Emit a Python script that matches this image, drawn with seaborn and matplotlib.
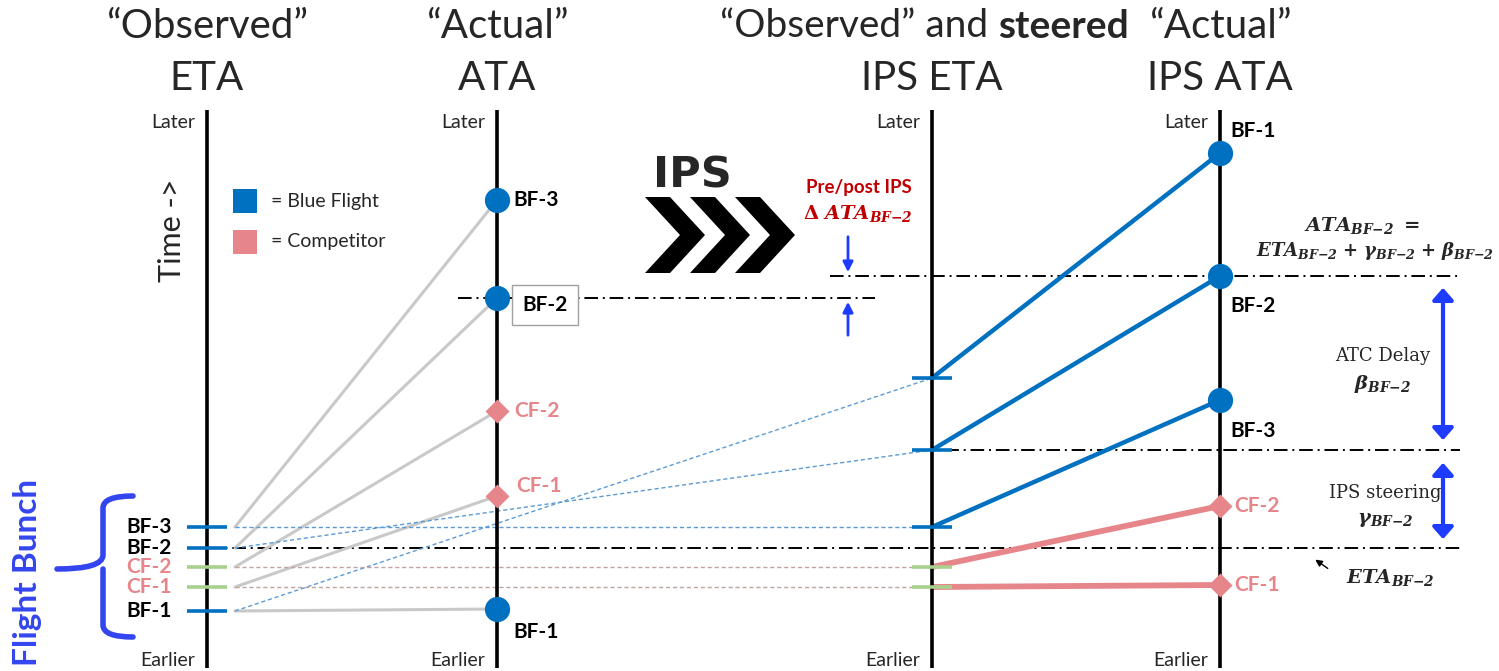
import numpy as np
import pandas as pd
import seaborn as sns
import matplotlib.pyplot as plt
from matplotlib.path import Path
from matplotlib.patches import PathPatch, Polygon

sns.set_style("white")
plt.rcParams['font.family'] = ['Lato', 'DejaVu Sans']
plt.rcParams['mathtext.fontset'] = 'dejavuserif'

# screen-like units: x across the page, y = time position (smaller = later)
axis_x = [207, 497, 932, 1220]
title_top = ["\u201cObserved\u201d", "\u201cActual\u201d", None, "\u201cActual\u201d"]
title_bot = ["ETA", "ATA", "IPS ETA", "IPS ATA"]

flights = ["BF-1", "BF-2", "BF-3", "CF-1", "CF-2"]
group = ["BF", "BF", "BF", "CF", "CF"]
eta_obs = [611, 548, 527, 587, 567]
ata_obs = [609, 298, 200, 496, 411]
ips_eta = [378, 450, 527, 587, 567]
ips_ata = [153, 276, 400, 585, 506]

# label offsets (dx, dy) next to the markers
ata_lab = [(16, 23), (48, 7), (16, 0), (19, -10), (17, 0)]
ips_lab = [(10, -22), (10, 30), (10, 31), (14, 0), (14, 0)]

BLUE = "#0070C0"
PINK = "#E6868A"
GREEN = "#A9D18E"
GREY = "#C9C9C9"
DARKRED = "#C00000"
ARROW = "#1E3CFF"
BUNCH = "#3345EE"

df = pd.DataFrame({"flight": flights, "group": group, "eta": eta_obs,
                   "ata": ata_obs, "ips_eta": ips_eta, "ips_ata": ips_ata})

fig = plt.figure(figsize=(14.99, 6.71), dpi=100)
ax = fig.add_axes([0, 0, 1, 1])


def segments(frame, y0, y1, x0, x1):
    a = pd.DataFrame({"flight": frame["flight"], "group": frame["group"], "x": x0, "y": frame[y0]})
    b = pd.DataFrame({"flight": frame["flight"], "group": frame["group"], "x": x1, "y": frame[y1]})
    return pd.concat([a, b]).reset_index(drop=True)


# time axes
for x in axis_x:
    ax.plot([x, x], [110, 668], color="black", lw=2.6, solid_capstyle="butt", zorder=3)
    ax.text(x - 12, 122, "Later", ha="right", va="center", fontsize=14)
    ax.text(x - 12, 660, "Earlier", ha="right", va="center", fontsize=14)

# ETA -> ATA grey links
grey = segments(df, "eta", "ata", axis_x[0] + 28, axis_x[1])
sns.lineplot(data=grey, x="x", y="y", units="flight", estimator=None, sort=False,
             color=GREY, lw=2.2, ax=ax, zorder=1)

# ETA -> IPS ETA dotted links
bf = df[df.group == "BF"]
cf = df[df.group == "CF"]
sns.lineplot(data=segments(bf, "eta", "ips_eta", axis_x[0] + 28, axis_x[2]), x="x", y="y",
             units="flight", estimator=None, sort=False, color="#5B9BD5", lw=1.0,
             linestyle=(0, (3, 2)), ax=ax, zorder=1)
sns.lineplot(data=segments(cf, "eta", "ips_eta", axis_x[0] + 28, axis_x[2]), x="x", y="y",
             units="flight", estimator=None, sort=False, color="#C4A2A2", lw=1.0,
             linestyle=(0, (3, 2)), ax=ax, zorder=1)

# IPS ETA -> IPS ATA steering
sns.lineplot(data=segments(bf, "ips_eta", "ips_ata", axis_x[2], axis_x[3]), x="x", y="y",
             units="flight", estimator=None, sort=False, color=BLUE, lw=3.2, ax=ax, zorder=2)
sns.lineplot(data=segments(cf, "ips_eta", "ips_ata", axis_x[2], axis_x[3]), x="x", y="y",
             units="flight", estimator=None, sort=False, color=PINK, lw=4.2, ax=ax, zorder=2)

# ETA ticks
for stage, xi in (("eta", axis_x[0]), ("ips_eta", axis_x[2])):
    for _, r in df.iterrows():
        ax.plot([xi - 20, xi + 20], [r[stage], r[stage]], lw=2.6,
                color=BLUE if r.group == "BF" else GREEN, solid_capstyle="butt", zorder=4)

# markers at ATA and IPS ATA
for stage, xi in (("ata", axis_x[1]), ("ips_ata", axis_x[3])):
    pts = pd.DataFrame({"x": xi, "y": df[stage], "group": df.group})
    sns.scatterplot(data=pts[pts.group == "BF"], x="x", y="y", color=BLUE, marker="o",
                    s=330, linewidth=0, ax=ax, zorder=5)
    sns.scatterplot(data=pts[pts.group == "CF"], x="x", y="y", color=PINK, marker="D",
                    s=150, linewidth=0, ax=ax, zorder=5)

# flight labels
for _, r in df.iterrows():
    col = "black" if r.group == "BF" else PINK
    ax.text(axis_x[0] - 35, r.eta, r.flight, ha="right", va="center",
            fontsize=15, fontweight="bold", color=col)
for i, r in df.iterrows():
    col = "black" if r.group == "BF" else PINK
    dx, dy = ata_lab[i]
    box = None
    ha = "left"
    if r.flight == "BF-2":
        box = dict(boxstyle="square,pad=0.5", fc="white", ec="#A0A0A0", lw=1)
        ha = "center"
    ax.text(axis_x[1] + dx, r.ata + dy, r.flight, ha=ha, va="center", fontsize=15,
            fontweight="bold", color=col, bbox=box, zorder=6)
    dx, dy = ips_lab[i]
    ax.text(axis_x[3] + dx, r.ips_ata + dy, r.flight, ha="left", va="center", fontsize=15,
            fontweight="bold", color=col)

# column titles
for x, t1, t2 in zip(axis_x, title_top, title_bot):
    if t1:
        ax.text(x, 27, t1, ha="center", va="center", fontsize=29)
    ax.text(x, 78, t2, ha="center", va="center", fontsize=29)
ax.text(998, 26, "\u201cObserved\u201d and ", ha="right", va="center", fontsize=28)
ax.text(998, 26, "steered", ha="left", va="center", fontsize=28, fontweight="bold")

ax.text(172, 230, "Time ->", rotation=90, ha="center", va="center", fontsize=22)

# legend
ax.scatter([245], [201], marker="s", s=290, color=BLUE, linewidths=0)
ax.scatter([245], [242], marker="s", s=290, color=PINK, linewidths=0)
ax.text(271, 201, "= Blue Flight", va="center", fontsize=14)
ax.text(271, 242, "= Competitor", va="center", fontsize=14)

# IPS chevrons
ax.text(692, 176, "IPS", ha="center", va="center", fontsize=31, fontweight="bold",
        family="DejaVu Sans")
for cx in [645, 690, 735]:
    t, d = 25, 35
    ax.add_patch(Polygon([(cx, 197), (cx + t, 197), (cx + t + d, 235), (cx + t, 273),
                          (cx, 273), (cx + d, 235)], closed=True, color="black", lw=0))

# reference dash-dot lines
dd = (0, (7, 2.5, 1, 2.5))
ax.plot([458, 875], [ata_obs[1], ata_obs[1]], color="black", lw=1.4, linestyle=dd, zorder=0)
ax.plot([830, 1460], [ips_ata[1], ips_ata[1]], color="black", lw=1.4, linestyle=dd, zorder=0)
ax.plot([920, 1460], [ips_eta[1], ips_eta[1]], color="black", lw=1.4, linestyle=dd, zorder=0)
ax.plot([axis_x[0], 1460], [eta_obs[1], eta_obs[1]], color="black", lw=1.4, linestyle=dd, zorder=0)

# pre/post delta
ax.text(859, 187, "Pre/post IPS", ha="center", va="center", fontsize=13.5,
        fontweight="bold", color=DARKRED)
ax.text(858, 213, r"$\mathbf{\Delta}\ \mathbfit{ATA}_{\mathbfit{BF{-}2}}$", ha="center",
        va="center", fontsize=14, color=DARKRED)
ax.annotate("", xy=(848, ips_ata[1] - 1), xytext=(848, 234),
            arrowprops=dict(arrowstyle="-|>", color=ARROW, lw=2, mutation_scale=15))
ax.annotate("", xy=(848, ata_obs[1] + 1), xytext=(848, 338),
            arrowprops=dict(arrowstyle="-|>", color=ARROW, lw=2, mutation_scale=15))

# right-hand annotations
sub = r"_{\mathbfit{BF{-}2}}"
ax.text(1362, 226, r"$\mathbfit{ATA}" + sub + r"\ \mathbf{=}$", ha="center", va="center",
        fontsize=14)
ax.text(1375, 251, r"$\mathbfit{ETA}" + sub + r"\ \mathbf{+}\ \boldsymbol{\gamma}" + sub
        + r"\ \mathbf{+}\ \boldsymbol{\beta}" + sub + "$", ha="center", va="center", fontsize=13)
ax.annotate("", xy=(1443, 285), xytext=(1443, 443),
            arrowprops=dict(arrowstyle="<|-|>,head_width=0.35", color=ARROW, lw=3, mutation_scale=18))
ax.annotate("", xy=(1443, 460), xytext=(1443, 542),
            arrowprops=dict(arrowstyle="<|-|>,head_width=0.35", color=ARROW, lw=3, mutation_scale=18))
ax.text(1383, 356, "ATC Delay", ha="center", va="center", fontsize=13, family="DejaVu Serif")
ax.text(1383, 384, r"$\boldsymbol{\beta}" + sub + "$", ha="center", va="center", fontsize=14)
ax.text(1385, 493, "IPS steering", ha="center", va="center", fontsize=13, family="DejaVu Serif")
ax.text(1385, 520, r"$\boldsymbol{\gamma}" + sub + "$", ha="center", va="center", fontsize=14)
ax.annotate("", xy=(1313, 558), xytext=(1330, 570),
            arrowprops=dict(arrowstyle="-|>", color="black", lw=1, mutation_scale=10))
ax.text(1390, 578, r"$\mathbfit{ETA}" + sub + "$", ha="center", va="center", fontsize=14)

# flight bunch brace
top, mid, bot = 496, 569, 637
verts = [(133, top), (103, top), (103, top + 12), (103, mid - 14), (103, mid),
         (57, mid), (103, mid), (103, mid + 14), (103, bot - 12), (103, bot), (133, bot)]
codes = [Path.MOVETO, Path.CURVE3, Path.CURVE3, Path.LINETO, Path.CURVE3, Path.LINETO,
         Path.MOVETO, Path.CURVE3, Path.LINETO, Path.CURVE3, Path.CURVE3]
ax.add_patch(PathPatch(Path(verts, codes), fc="none", ec=BUNCH, lw=4, capstyle="round"))
ax.text(28, 572, "Flight Bunch", rotation=90, ha="center", va="center", fontsize=24,
        fontweight="bold", color=BUNCH)

ax.set_xlim(0, 1499)
ax.set_ylim(671, 0)
ax.axis("off")

fig.savefig("out.png", dpi=100)
